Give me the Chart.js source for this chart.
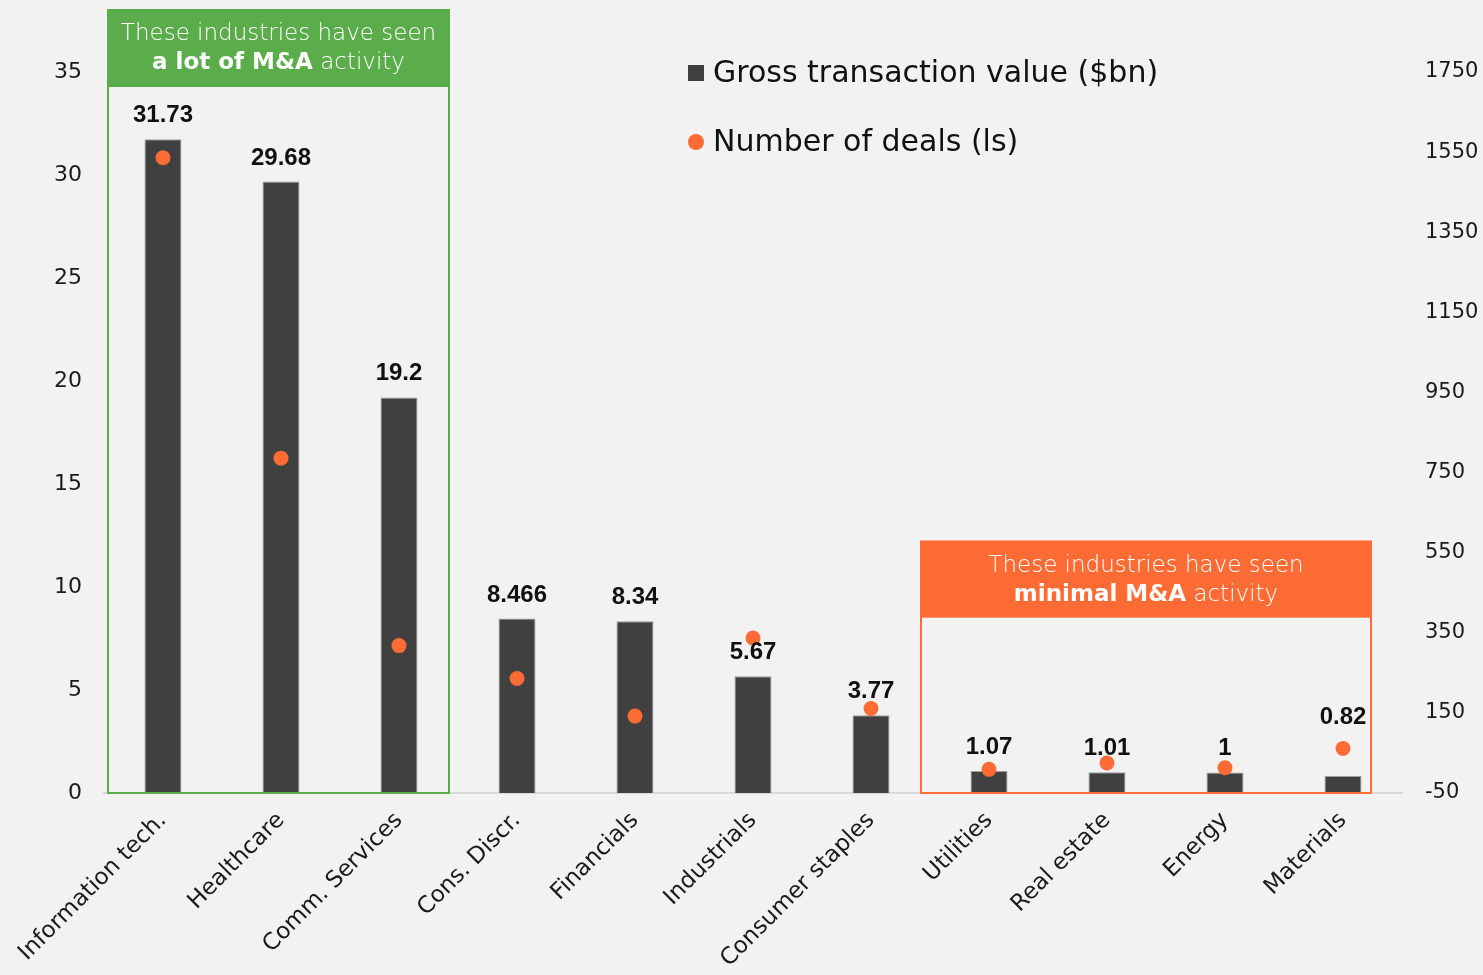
<!DOCTYPE html>
<html>
<head>
<meta charset="utf-8">
<script src="https://cdn.jsdelivr.net/npm/chart.js@4/dist/chart.umd.min.js"></script>
<style>
  html, body { margin: 0; padding: 0; background: #f2f2f2; }
  #wrap { width: 1483px; height: 975px; position: relative; }
</style>
</head>
<body>
<div id="wrap"><canvas id="c" width="1483" height="975"></canvas></div>
<script>
const categories = ['Information tech.', 'Healthcare', 'Comm. Services', 'Cons. Discr.', 'Financials', 'Industrials', 'Consumer staples', 'Utilities', 'Real estate', 'Energy', 'Materials'];
const grossValue = [31.73, 29.68, 19.2, 8.466, 8.34, 5.67, 3.77, 1.07, 1.01, 1, 0.82];
const valueLabels = ['31.73', '29.68', '19.2', '8.466', '8.34', '5.67', '3.77', '1.07', '1.01', '1', '0.82'];
const dealCount = [1536, 786, 318, 236, 142, 337, 161, 9, 25, 13, 61];
const leftTicks = [0, 5, 10, 15, 20, 25, 30, 35];
const rightTicks = [-50, 150, 350, 550, 750, 950, 1150, 1350, 1550, 1750];
const seriesNames = ['Gross transaction value ($bn)', 'Number of deals (ls)'];
const boxTexts = [
  { line1: 'These industries have seen', bold: 'a lot of M&A', rest: ' activity' },
  { line1: 'These industries have seen', bold: 'minimal M&A', rest: ' activity' }
];

const BAR = '#404040', DOT = '#ff6b35', GREEN = '#5aad4a', ORANGE = '#ff6b35';
const TXT = "'DejaVu Sans', sans-serif";

const overlay = {
  id: 'overlay',
  beforeDraw(chart) {
    const ctx = chart.ctx;
    ctx.save();
    ctx.fillStyle = '#f2f2f2';
    ctx.fillRect(0, 0, chart.width, chart.height);
    ctx.restore();
  },
  afterDatasetsDraw(chart) {
    const ctx = chart.ctx;
    const x = chart.scales.x, y = chart.scales.y;
    const bottom = y.getPixelForValue(0);
    // value labels (the last one sits above its dot in the original)
    const meta = chart.getDatasetMeta(1);
    const dots = chart.getDatasetMeta(0);
    ctx.save();
    ctx.font = "bold 24px 'Liberation Sans', Arial, sans-serif";
    ctx.fillStyle = '#111';
    ctx.textAlign = 'center';
    ctx.textBaseline = 'alphabetic';
    meta.data.forEach((bar, i) => {
      let by = bar.y - 17;
      if (i === meta.data.length - 1) by = Math.min(by, dots.data[i].y - 25);
      ctx.fillText(valueLabels[i], bar.x, by);
    });
    ctx.restore();

    // highlight boxes
    const boxes = [
      { from: 0, to: 2, l: -55, r: 50, top: y.getPixelForValue(35) - 62, head: 78, color: GREEN, t: boxTexts[0] },
      { from: 7, to: 10, l: -68, r: 28, top: y.getPixelForValue(12.2), head: 77, color: ORANGE, t: boxTexts[1] }
    ];
    boxes.forEach(b => {
      const left = x.getPixelForValue(b.from) + b.l;
      const right = x.getPixelForValue(b.to) + b.r;
      ctx.save();
      ctx.strokeStyle = b.color;
      ctx.lineWidth = 2;
      ctx.strokeRect(left, b.top, right - left, bottom - b.top);
      ctx.fillStyle = b.color;
      ctx.fillRect(left - 1, b.top - 1, right - left + 2, b.head);
      const cx = (left + right) / 2;
      ctx.fillStyle = '#ffffff';
      ctx.textBaseline = 'middle';
      ctx.textAlign = 'center';
      ctx.font = '300 23px ' + TXT;
      ctx.fillText(b.t.line1, cx, b.top + 24);
      ctx.font = 'bold 23px ' + TXT;
      const wb = ctx.measureText(b.t.bold).width;
      ctx.font = '300 23px ' + TXT;
      const wr = ctx.measureText(b.t.rest).width;
      const sx = cx - (wb + wr) / 2;
      ctx.textAlign = 'left';
      ctx.font = 'bold 23px ' + TXT;
      ctx.fillText(b.t.bold, sx, b.top + 53);
      ctx.font = '300 23px ' + TXT;
      ctx.fillText(b.t.rest, sx + wb, b.top + 53);
      ctx.restore();
    });
  },
  afterDraw(chart) {
    const ctx = chart.ctx;
    ctx.save();
    ctx.font = '30px ' + TXT;
    ctx.textBaseline = 'middle';
    ctx.textAlign = 'left';
    ctx.fillStyle = BAR;
    ctx.fillRect(688, 65, 16, 16);
    ctx.fillStyle = '#111';
    ctx.fillText(seriesNames[0], 713, 74);
    ctx.fillStyle = DOT;
    ctx.beginPath();
    ctx.arc(696, 142, 8, 0, Math.PI * 2);
    ctx.fill();
    ctx.fillStyle = '#111';
    ctx.fillText(seriesNames[1], 713, 143);
    ctx.restore();
  }
};

new Chart(document.getElementById('c'), {
  data: {
    labels: categories,
    datasets: [
      {
        type: 'line',
        label: seriesNames[1],
        data: dealCount,
        yAxisID: 'y1',
        showLine: false,
        pointRadius: 7.5,
        pointHoverRadius: 7.5,
        pointBackgroundColor: DOT,
        pointBorderColor: DOT,
        pointBorderWidth: 0,
        order: 0
      },
      {
        type: 'bar',
        label: seriesNames[0],
        data: grossValue,
        yAxisID: 'y',
        backgroundColor: BAR,
        borderColor: 'rgba(150,150,150,0.9)',
        borderWidth: 1,
        borderSkipped: 'bottom',
        barPercentage: 0.314,
        categoryPercentage: 1,
        order: 1
      }
    ]
  },
  options: {
    responsive: false,
    animation: false,
    devicePixelRatio: 1,
    layout: { padding: { top: 72, left: 0, right: 0, bottom: 0 } },
    plugins: { legend: { display: false }, tooltip: { enabled: false } },
    scales: {
      x: {
        offset: true,
        grid: { display: false, drawTicks: false },
        border: { display: true, color: '#d9d9d9', width: 2 },
        ticks: {
          maxRotation: 45, minRotation: 45, padding: 14,
          color: '#1a1a1a', font: { family: TXT, size: 23 }
        },
        afterFit(s) { s.height = 182; }
      },
      y: {
        position: 'left', min: 0, max: 35,
        grid: { display: false, drawTicks: false },
        border: { display: false },
        afterBuildTicks(s) { s.ticks = leftTicks.map(v => ({ value: v })); },
        ticks: { padding: 22, color: '#1a1a1a', font: { family: TXT, size: 22 }, callback: v => String(v) },
        afterFit(s) { s.width = 104; }
      },
      y1: {
        position: 'right', min: -50, max: 1750,
        grid: { display: false, drawTicks: false },
        border: { display: false },
        afterBuildTicks(s) { s.ticks = rightTicks.map(v => ({ value: v })); },
        ticks: { padding: 23, color: '#1a1a1a', font: { family: TXT, size: 21 }, callback: v => String(v) },
        afterFit(s) { s.width = 81; }
      }
    }
  },
  plugins: [overlay]
});
</script>
</body>
</html>
